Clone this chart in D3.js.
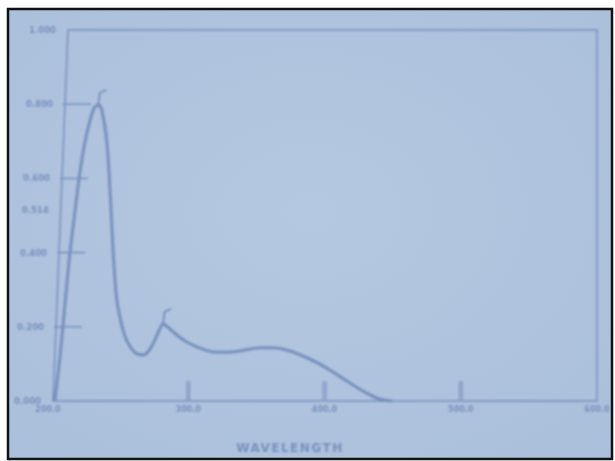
<!DOCTYPE html>
<html>
<head>
<meta charset="utf-8">
<script src="https://cdn.jsdelivr.net/npm/d3@7"></script>
<style>
  html, body { margin: 0; padding: 0; background: #fff; }
  svg { display: block; }
</style>
</head>
<body>
<svg id="chart" width="615" height="461"></svg>
<script>
// spectrum: wavelength (nm) vs absorbance
const wavelength = [202, 206, 209.5, 213, 217, 220.5, 224, 228, 231, 234, 236, 238, 240.5, 242, 243.5, 245, 247, 250, 253.5, 258, 262.5, 267, 271, 275.5, 278.5, 281.5, 285, 290, 297.5, 308.5, 319.5, 330.5, 341.5, 352.5, 363.5, 374.5, 385.5, 396.5, 407.5, 418.5, 429.5, 440.5, 449.5]
const absorbance = [0.000, 0.124, 0.259, 0.394, 0.515, 0.617, 0.695, 0.757, 0.790, 0.798, 0.790, 0.757, 0.690, 0.609, 0.501, 0.394, 0.291, 0.224, 0.175, 0.143, 0.127, 0.124, 0.135, 0.164, 0.189, 0.208, 0.199, 0.183, 0.162, 0.143, 0.132, 0.132, 0.137, 0.143, 0.143, 0.135, 0.119, 0.100, 0.075, 0.049, 0.024, 0.005, 0.000]
const peaks = [234, 281.5]                       // picked peaks (marked with a flag)
const xTicks = [200, 300, 400, 500, 600]
const xTickLabels = ["200.0", "300.0", "400.0", "500.0", "600.0"]
const yTicks = [0, 0.2, 0.4, 0.6, 0.8, 1.0]
const yTickLabels = ["0.000", "0.200", "0.400", "0.600", "0.800", "1.000"]
const extraLabel = {value: 0.514, text: "0.514"}   // stray label between ticks
const xTitle = "WAVELENGTH"

const svg = d3.select("#chart")
const pBottom = 401, pTop = 30, pRight = 597
const leftBottom = 53, leftTop = 68             // photo is keystoned: left edge leans

const x = d3.scaleLinear().domain([200, 600]).range([52, pRight])
const y = d3.scaleLinear().domain([0, 1]).range([pBottom, pTop])
const leftEdge = py => leftBottom + (pBottom - py) * (leftTop - leftBottom) / (pBottom - pTop)

const defs = svg.append("defs")
defs.append("filter").attr("id", "soft").append("feGaussianBlur").attr("stdDeviation", 0.9)
defs.append("filter").attr("id", "softer").append("feGaussianBlur").attr("stdDeviation", 1.3)
const bg = defs.append("radialGradient").attr("id", "bg").attr("cx", "50%").attr("cy", "45%").attr("r", "75%")
bg.append("stop").attr("offset", "0%").attr("stop-color", "#b5c8e1")
bg.append("stop").attr("offset", "100%").attr("stop-color", "#aabfdb")

// photo background + black frame
svg.append("rect").attr("x", 8).attr("y", 9).attr("width", 604).attr("height", 450).attr("fill", "url(#bg)")
svg.append("rect").attr("x", 8).attr("y", 9).attr("width", 604).attr("height", 450)
  .attr("fill", "none").attr("stroke", "#111").attr("stroke-width", 2.5)

const g = svg.append("g").attr("filter", "url(#soft)")
const lineCol = "#7590bf"

// plot frame
g.append("path")
  .attr("d", `M${leftTop},${pTop} L${pRight},${pTop} L${pRight},${pBottom} L${leftBottom},${pBottom} Z`)
  .attr("fill", "none").attr("stroke", lineCol).attr("stroke-width", 1.5)

// y ticks (inward) and labels
g.selectAll(".ytick").data(yTicks.filter(d => d > 0 && d < 1)).join("line")
  .attr("x1", d => leftEdge(y(d)) - 2).attr("x2", d => leftEdge(y(d)) + 26)
  .attr("y1", d => y(d)).attr("y2", d => y(d))
  .attr("stroke", lineCol).attr("stroke-width", 1.5)

const txt = svg.append("g").attr("filter", "url(#softer)")
  .attr("font-family", "DejaVu Sans, sans-serif").attr("fill", "#7891bd")
txt.selectAll(".ylab").data(yTicks).join("text")
  .attr("x", d => leftEdge(y(d)) - 12).attr("y", d => y(d) + 3)
  .attr("text-anchor", "end").attr("font-size", 8.5).attr("font-weight", "bold")
  .text((d, i) => yTickLabels[i])
txt.append("text")
  .attr("x", leftEdge(y(extraLabel.value)) - 12).attr("y", y(extraLabel.value) + 3)
  .attr("text-anchor", "end").attr("font-size", 8.5).attr("font-weight", "bold")
  .text(extraLabel.text)

// x ticks (short upright bars, printed double) and labels
const xt = g.selectAll(".xtick").data(xTicks.slice(1, -1)).join("g")
xt.append("line")
  .attr("x1", d => x(d)).attr("x2", d => x(d))
  .attr("y1", pBottom - 20).attr("y2", pBottom)
  .attr("stroke", "#8199c4").attr("stroke-width", 4)
xt.append("line")
  .attr("x1", d => x(d)).attr("x2", d => x(d))
  .attr("y1", pBottom - 20).attr("y2", pBottom)
  .attr("stroke", "#a3b7d7").attr("stroke-width", 1)
txt.selectAll(".xlab").data(xTicks).join("text")
  .attr("x", (d, i) => i === 0 ? x(d) - 4 : x(d))
  .attr("y", pBottom + 11)
  .attr("text-anchor", "middle").attr("font-size", 8).attr("font-weight", "bold")
  .text((d, i) => xTickLabels[i])
txt.append("text")
  .attr("x", 290).attr("y", 452).attr("text-anchor", "middle")
  .attr("font-size", 12).attr("font-weight", "bold").attr("letter-spacing", "1.5").attr("fill", "#7790bd")
  .text(xTitle)

// spectrum
const pts = wavelength.map((w, i) => [w, absorbance[i]])
const line = d3.line().x(d => x(d[0])).y(d => y(d[1])).curve(d3.curveMonotoneX)
g.append("path").datum(pts).attr("d", line)
  .attr("fill", "none").attr("stroke", "#6884b5").attr("stroke-width", 2.8)
g.append("path").datum(pts).attr("d", line)
  .attr("fill", "none").attr("stroke", "#8aa2c9").attr("stroke-width", 0.8)

// peak flags
peaks.forEach(p => {
  const i = wavelength.indexOf(p)
  const px = x(p), py = y(absorbance[i])
  g.append("path")
    .attr("d", `M${px},${py} L${px + 1.5},${py - 12} L${px + 8},${py - 15}`)
    .attr("fill", "none").attr("stroke", "#6884b5").attr("stroke-width", 1.5)
})
</script>
</body>
</html>
